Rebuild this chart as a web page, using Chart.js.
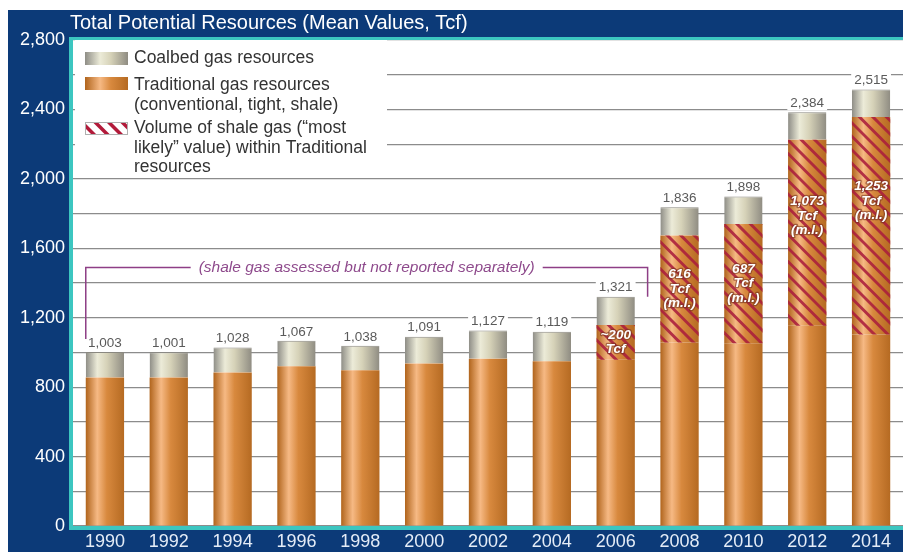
<!DOCTYPE html>
<html>
<head>
<meta charset="utf-8">
<title>Total Potential Resources</title>
<script src="https://cdn.jsdelivr.net/npm/chart.js@4/dist/chart.umd.min.js"></script>
<style>
  html, body { margin: 0; padding: 0; background: #ffffff; }
  #wrap { width: 903px; height: 552px; }
</style>
</head>
<body>
<div id="wrap"><canvas id="graficoRecursos" width="903" height="552"></canvas></div>
<script>
// Anos avaliados
const anos = ['1990', '1992', '1994', '1996', '1998', '2000', '2002', '2004', '2006', '2008', '2010', '2012', '2014'];
// Total (Tcf) impresso acima de cada barra
const totais = [1003, 1001, 1028, 1067, 1038, 1091, 1127, 1119, 1321, 1836, 1898, 2384, 2515];
// Recursos de metano de carvão (coalbed)
const coalbed = [148, 146, 144, 147, 141, 155, 164, 170, 163, 163, 158, 158, 158];
// Gás de folhelho ("most likely") dentro dos recursos tradicionais
const shale = [0, 0, 0, 0, 0, 0, 0, 0, 200, 616, 687, 1073, 1253];
const shaleRotulos = ['', '', '', '', '', '', '', '', ['~200', 'Tcf'], ['616', 'Tcf', '(m.l.)'], ['687', 'Tcf', '(m.l.)'], ['1,073', 'Tcf', '(m.l.)'], ['1,253', 'Tcf', '(m.l.)']];
// Eixo Y
const yMax = 2800;
const yPasso = 200;
const yRotuloPasso = 400;

// Parte tradicional sem o folhelho
const tradicionalBase = totais.map((t, i) => t - coalbed[i] - shale[i]);

const NAVY = '#0c3a78';
const CIANO = '#3cc6c0';
const FONTE = '"Liberation Sans", Arial, sans-serif';
const BAR_PCT = 0.6;

function cilindro(cores) {
  return function(context) {
    const chart = context.chart;
    const area = chart.chartArea;
    if (!area || context.dataIndex === undefined) return cores[2];
    const x = chart.scales.x.getPixelForValue(context.dataIndex);
    const meia = (area.width / anos.length) * BAR_PCT / 2;
    const g = chart.ctx.createLinearGradient(x - meia, 0, x + meia, 0);
    g.addColorStop(0, cores[0]);
    g.addColorStop(0.3, cores[1]);
    g.addColorStop(0.55, cores[2]);
    g.addColorStop(1, cores[3]);
    return g;
  };
}

const laranja = ['#b0641c', '#f6b984', '#d8893e', '#b56a22'];
const cinza = ['#8e8d86', '#ecebd8', '#d6d2b8', '#8f8c82'];

// Fundo azul, área branca e borda ciano
const fundoPlugin = {
  id: 'fundo',
  beforeDraw(chart) {
    const ctx = chart.ctx;
    const a = chart.chartArea;
    ctx.save();
    ctx.fillStyle = '#ffffff';
    ctx.fillRect(0, 0, chart.width, chart.height);
    ctx.fillStyle = NAVY;
    ctx.fillRect(8, 10, chart.width - 8, chart.height - 10);
    ctx.fillStyle = '#ffffff';
    ctx.fillRect(a.left, a.top, a.right - a.left, a.bottom - a.top);
    ctx.restore();
  },
  afterDraw(chart) {
    const ctx = chart.ctx;
    const a = chart.chartArea;
    ctx.save();
    ctx.fillStyle = CIANO;
    ctx.fillRect(a.left - 4, a.top - 3, chart.width, 3);
    ctx.fillRect(a.left - 4, a.top - 3, 4, a.bottom - a.top + 7);
    ctx.fillRect(a.left - 4, a.bottom, chart.width, 4);
    // título
    ctx.fillStyle = '#ffffff';
    ctx.font = '20px ' + FONTE;
    ctx.textAlign = 'left';
    ctx.textBaseline = 'middle';
    ctx.fillText('Total Potential Resources (Mean Values, Tcf)', 70, 23);
    ctx.restore();
  }
};

function listras(ctx, x, y, w, h, cor, largura) {
  ctx.save();
  ctx.beginPath();
  ctx.rect(x, y, w, h);
  ctx.clip();
  ctx.strokeStyle = cor;
  ctx.lineWidth = largura;
  const passo = 13.5;
  const inicio = Math.floor((y - x - w) / passo) * passo;
  for (let k = inicio; k < y + h - x + passo; k += passo) {
    // linhas "\" : y = x + k
    ctx.beginPath();
    ctx.moveTo(x - 2, x - 2 + k);
    ctx.lineTo(x + w + 2, x + w + 2 + k);
    ctx.stroke();
  }
  ctx.restore();
}

// Hachura do folhelho, rótulos e anotação
const marcasPlugin = {
  id: 'marcas',
  afterDatasetsDraw(chart) {
    const ctx = chart.ctx;
    const a = chart.chartArea;
    const yS = chart.scales.y;
    const xS = chart.scales.x;
    const metaShale = chart.getDatasetMeta(1);
    const metaTopo = chart.getDatasetMeta(2);

    metaShale.data.forEach((bar, i) => {
      if (!shale[i]) return;
      const p = bar.getProps(['x', 'y', 'base', 'width'], true);
      const h = p.base - p.y;
      listras(ctx, p.x - p.width / 2, p.y, p.width, h, 'rgba(170, 30, 60, 0.88)', 3);
    });

    metaShale.data.forEach((bar, i) => {
      const linhas = shaleRotulos[i];
      if (!linhas) return;
      const p = bar.getProps(['x', 'y', 'base'], true);
      const h = p.base - p.y;
      const centro = p.y + Math.min(h / 2, 30 + 0.25 * h);
      ctx.save();
      ctx.font = 'italic bold 13.5px ' + FONTE;
      ctx.textAlign = 'center';
      ctx.textBaseline = 'middle';
      ctx.lineJoin = 'round';
      const lh = 14.5;
      const y0 = centro - (linhas.length - 1) * lh / 2;
      linhas.forEach((t, j) => {
        ctx.strokeStyle = 'rgba(120, 50, 30, 0.6)';
        ctx.lineWidth = 2.5;
        ctx.strokeText(t, p.x, y0 + j * lh);
        ctx.fillStyle = '#ffffff';
        ctx.fillText(t, p.x, y0 + j * lh);
      });
      ctx.restore();
    });

    // totais acima das barras
    ctx.save();
    ctx.font = '13.5px ' + FONTE;
    ctx.textAlign = 'center';
    ctx.textBaseline = 'middle';
    metaTopo.data.forEach((bar, i) => {
      const topo = yS.getPixelForValue(coalbed[i] + shale[i] + tradicionalBase[i]);
      const txt = totais[i].toLocaleString('en-US');
      const w = ctx.measureText(txt).width;
      ctx.fillStyle = '#ffffff';
      ctx.fillRect(bar.x - w / 2 - 3, topo - 16, w + 6, 14);
      ctx.fillStyle = '#5a5a5a';
      ctx.fillText(txt, bar.x, topo - 9);
    });
    ctx.restore();

    // colchete "(shale gas assessed but not reported separately)"
    const meiaBarra = (a.width / anos.length) * BAR_PCT / 2;
    const xEsq = xS.getPixelForValue(0) - meiaBarra;
    const xDir = (xS.getPixelForValue(8) + xS.getPixelForValue(9)) / 2;
    const yLinha = yS.getPixelForValue(1490);
    const yEsqFim = yS.getPixelForValue(totais[0]) - 13;
    const yDirFim = yS.getPixelForValue(totais[8]);
    const texto = '(shale gas assessed but not reported separately)';
    ctx.save();
    ctx.font = 'italic 15.5px ' + FONTE;
    const tw = ctx.measureText(texto).width;
    const meio = (xEsq + xDir) / 2;
    ctx.strokeStyle = '#8e3f86';
    ctx.lineWidth = 1.5;
    ctx.beginPath();
    ctx.moveTo(xEsq, yEsqFim);
    ctx.lineTo(xEsq, yLinha);
    ctx.lineTo(meio - tw / 2 - 8, yLinha);
    ctx.moveTo(meio + tw / 2 + 8, yLinha);
    ctx.lineTo(xDir, yLinha);
    ctx.lineTo(xDir, yDirFim);
    ctx.stroke();
    ctx.fillStyle = '#8e4a8c';
    ctx.textAlign = 'center';
    ctx.textBaseline = 'middle';
    ctx.fillText(texto, meio, yLinha);
    ctx.restore();

    // legenda
    ctx.save();
    ctx.fillStyle = '#ffffff';
    ctx.fillRect(a.left + 2, a.top, 312, 135);
    const sx = 85, sw = 43, sh = 13;
    const sg = ctx.createLinearGradient(sx, 0, sx + sw, 0);
    sg.addColorStop(0, cinza[0]); sg.addColorStop(0.35, cinza[1]); sg.addColorStop(0.6, cinza[2]); sg.addColorStop(1, cinza[3]);
    ctx.fillStyle = sg;
    ctx.fillRect(sx, 52, sw, sh);
    const og = ctx.createLinearGradient(sx, 0, sx + sw, 0);
    og.addColorStop(0, laranja[0]); og.addColorStop(0.35, laranja[1]); og.addColorStop(0.6, laranja[2]); og.addColorStop(1, laranja[3]);
    ctx.fillStyle = og;
    ctx.fillRect(sx, 77, sw, sh);
    ctx.fillStyle = '#ffffff';
    ctx.fillRect(sx, 122, sw, sh);
    listras(ctx, sx, 122, sw, sh, '#b21a3a', 3.5);
    ctx.strokeStyle = '#b0b0b0';
    ctx.lineWidth = 1;
    ctx.strokeRect(sx + 0.5, 122.5, sw - 1, sh - 1);
    ctx.fillStyle = '#333333';
    ctx.font = '17.5px ' + FONTE;
    ctx.textAlign = 'left';
    ctx.textBaseline = 'middle';
    const tx = 134;
    ctx.fillText('Coalbed gas resources', tx, 58);
    ctx.fillText('Traditional gas resources', tx, 85);
    ctx.fillText('(conventional, tight, shale)', tx, 105);
    ctx.fillText('Volume of shale gas (\u201cmost', tx, 128);
    ctx.fillText('likely\u201d value) within Traditional', tx, 148);
    ctx.fillText('resources', tx, 167);
    ctx.restore();
  }
};

const ctxRecursos = document.getElementById('graficoRecursos').getContext('2d');
new Chart(ctxRecursos, {
  type: 'bar',
  data: {
    labels: anos,
    datasets: [
      {
        label: 'Traditional gas resources',
        data: tradicionalBase,
        backgroundColor: cilindro(laranja),
        borderWidth: 0
      },
      {
        label: 'Volume of shale gas',
        data: shale,
        backgroundColor: cilindro(laranja),
        borderWidth: 0
      },
      {
        label: 'Coalbed gas resources',
        data: coalbed,
        backgroundColor: cilindro(cinza),
        borderColor: '#8a8880',
        borderWidth: { top: 1, left: 0, right: 0, bottom: 0 }
      }
    ]
  },
  options: {
    responsive: false,
    animation: false,
    devicePixelRatio: 1,
    layout: { padding: { top: 40, right: 0, left: 0, bottom: 0 } },
    datasets: {
      bar: { barPercentage: BAR_PCT, categoryPercentage: 1 }
    },
    plugins: {
      legend: { display: false },
      title: { display: false },
      tooltip: { enabled: false }
    },
    scales: {
      x: {
        stacked: true,
        grid: { display: false, drawTicks: false },
        border: { display: false },
        ticks: {
          color: '#e4ecf7',
          font: { family: FONTE, size: 18 },
          padding: 5,
          maxRotation: 0,
          autoSkip: false
        },
        afterFit(scale) { scale.height = 26; }
      },
      y: {
        stacked: true,
        min: 0,
        max: yMax,
        grid: { color: '#8c8c8c', lineWidth: 1.2, drawTicks: false },
        border: { display: false },
        ticks: {
          stepSize: yPasso,
          color: '#ffffff',
          font: { family: FONTE, size: 18 },
          padding: 8,
          callback: function(value) {
            return value % yRotuloPasso === 0 ? value.toLocaleString('en-US') : '';
          }
        },
        afterFit(scale) { scale.width = 73; }
      }
    }
  },
  plugins: [fundoPlugin, marcasPlugin]
});
</script>
</body>
</html>
